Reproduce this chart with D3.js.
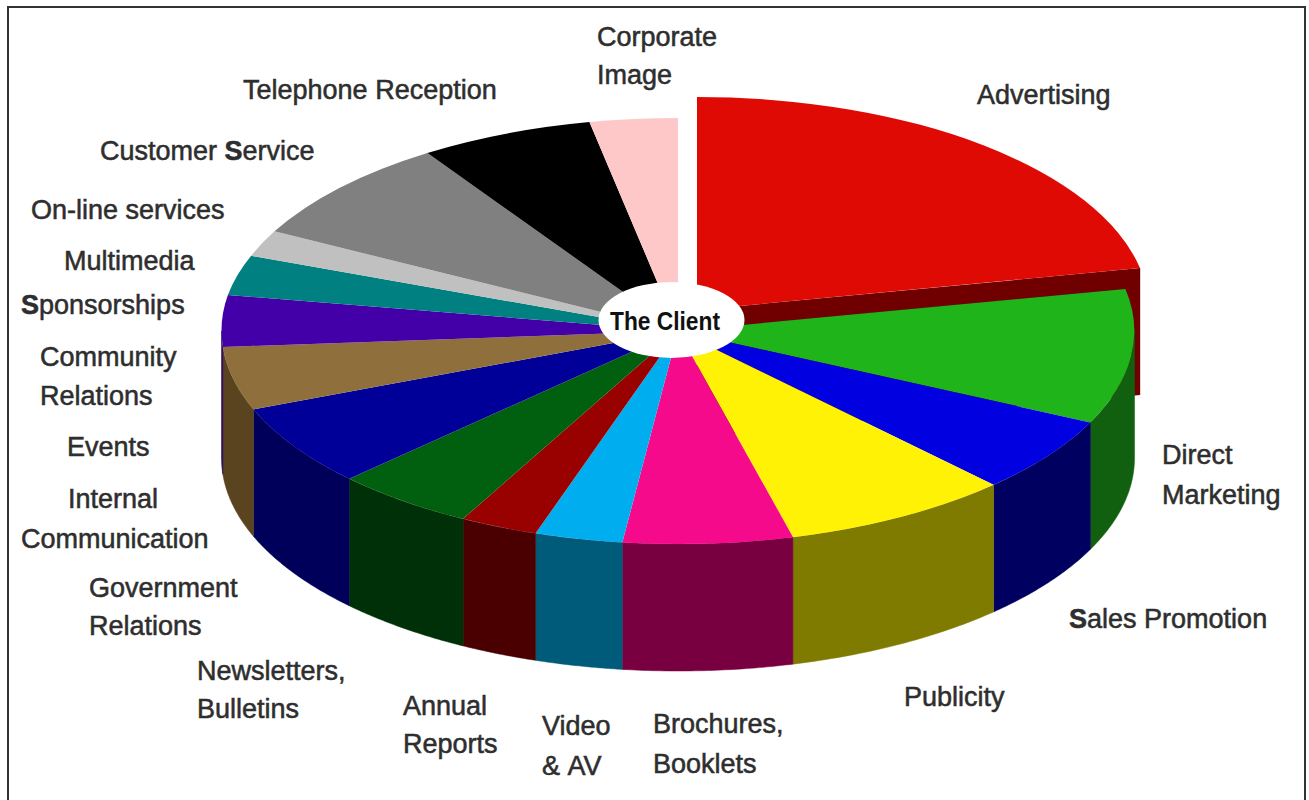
<!DOCTYPE html>
<html>
<head>
<meta charset="utf-8">
<title>The Client</title>
<script src="https://cdn.jsdelivr.net/npm/d3@7/dist/d3.min.js"></script>
<style>
  html, body { margin: 0; padding: 0; background: #fff; }
  svg { display: block; }
  text { font-family: "Liberation Sans", Arial, sans-serif; }
</style>
</head>
<body>
<script>
// Share of each communication channel, clockwise from twelve o'clock (percent).
const slices = ["Advertising", "Direct Marketing", "Sales Promotion", "Publicity",
  "Brochures, Booklets", "Video & AV", "Annual Reports", "Newsletters, Bulletins",
  "Government Relations", "Community Relations", "Sponsorships", "Multimedia",
  "On-line services", "Customer Service", "Telephone Reception", "Corporate Image"];
const shares = [21.85, 10.2, 5.8, 8.1, 6.0, 3.1, 2.75, 5.0, 6.2, 4.8, 3.9, 3.05, 2.0, 8.0, 6.15, 3.1];
const topColors = ["#e00a05", "#1eb41a", "#0000e0", "#fff205", "#f50a8c", "#00aeef", "#990000", "#006010",
  "#000099", "#8f703c", "#4400a8", "#008080", "#c0c0c0", "#808080", "#000000", "#ffc8c8"];
const sideColors = ["#700000", "#106010", "#000060", "#7f7a00", "#780040", "#005a7a", "#4a0000", "#003008",
  "#00005a", "#5a4420", "#220054", "#004040", "#606060", "#404040", "#000000", "#806464"];

// Text around the pie, one entry per line of text.
const labelLines = ["Advertising", "Corporate", "Image", "Telephone Reception", "Customer Service",
  "On-line services", "Multimedia", "Sponsorships", "Community", "Relations", "Events", "Internal",
  "Communication", "Government", "Relations", "Newsletters,", "Bulletins", "Annual", "Reports",
  "Video", "& AV", "Brochures,", "Booklets", "Publicity", "Sales Promotion", "Direct", "Marketing"];
const labelX = [977, 597, 597, 243, 100, 31, 64, 21, 40, 40, 67, 68, 21, 89, 89, 197, 197, 403, 403,
  542, 542, 653, 653, 904, 1069, 1162, 1162];
const labelY = [104, 46, 84, 99, 160, 219, 270, 314, 366, 405, 456, 508, 548, 597, 635, 680, 718, 715, 753,
  735, 775, 733, 773, 706, 628, 464, 504];
const heavyInitials = ["Service", "Sponsorships", "Sales"];

const width = 1309, height = 800;
const cx = 678, cy = 331, rx = 456.5, ry = 213, depth = 127;
const pullX = 19, pullY = -21, leadRx = 452;

const svg = d3.select("body").append("svg").attr("width", width).attr("height", height);

// Unit-circle coordinates projected onto the tilted disc.
const px = d3.scaleLinear().domain([-1, 1]).range([cx - rx, cx + rx]);
const py = d3.scaleLinear().domain([-1, 1]).range([cy + ry, cy - ry]);
const rim = a => [px(Math.sin(a)), py(Math.cos(a))];

const arcs = d3.pie().sort(null).value((d, i) => shares[i])(slices);
const unitArc = d3.arc().innerRadius(0).outerRadius(1);
const line = d3.line();

// Page frame, open along the bottom edge.
svg.append("path")
  .attr("d", line([[8, height], [8, 7], [1305, 7], [1305, height]]))
  .attr("fill", "none").attr("stroke", "#333").attr("stroke-width", 2);

// The cut face of the pulled-out slice sits behind everything else.
const lead = arcs[0];
const leadPx = d3.scaleLinear().domain([0, 1]).range([cx, cx + leadRx]);
const tip = [leadPx(Math.sin(lead.endAngle)), py(Math.cos(lead.endAngle))];
svg.append("path")
  .attr("transform", `translate(${pullX},${pullY})`)
  .attr("d", line([[cx, cy], tip, [tip[0], tip[1] + depth], [cx, cy + depth]]) + "Z")
  .attr("fill", sideColors[0]);

// Outer walls of the front half of the pie.
const walls = svg.append("g");
arcs.slice(1).forEach(d => {
  const a0 = Math.max(d.startAngle, Math.PI / 2);
  const a1 = Math.min(d.endAngle, Math.PI * 1.5);
  if (a1 <= a0) return;
  const steps = d3.range(0, 41).map(k => a0 + (a1 - a0) * k / 40);
  const upper = steps.map(rim);
  const lower = upper.map(p => [p[0], p[1] + depth]).reverse();
  walls.append("path")
    .attr("d", line(upper.concat(lower)) + "Z")
    .attr("fill", sideColors[d.index])
    .attr("stroke", sideColors[d.index]).attr("stroke-width", 0.5);
});

// Top faces: a unit pie squashed into the disc's ellipse.
svg.append("g").selectAll("path")
  .data(arcs)
  .join("path")
  .attr("transform", d => d.index === 0
    ? `translate(${cx + pullX},${cy + pullY}) scale(${leadRx},${ry})`
    : `translate(${cx},${cy}) scale(${rx},${ry})`)
  .attr("d", unitArc)
  .attr("fill", d => topColors[d.index]);

// Slot between the pulled-out slice and its neighbour.
svg.append("rect")
  .attr("x", cx).attr("y", 90).attr("width", pullX).attr("height", 215).attr("fill", "#fff");

// Hub in the middle.
svg.append("ellipse")
  .attr("cx", 671.5).attr("cy", 320).attr("rx", 73).attr("ry", 38).attr("fill", "#fff");
svg.append("text")
  .attr("x", 610).attr("y", 330)
  .attr("font-size", 26).attr("font-weight", 700).attr("fill", "#111")
  .attr("textLength", 110).attr("lengthAdjust", "spacingAndGlyphs")
  .text("The Client");

// Surrounding labels, slightly condensed; a few words carry a heavier first letter.
const labels = svg.append("g")
  .attr("font-size", 28).attr("fill", "#2e2e2e")
  .attr("stroke", "#2e2e2e").attr("stroke-width", 0.55);
labelLines.forEach((txt, i) => {
  const t = labels.append("text")
    .attr("transform", `translate(${labelX[i]},${labelY[i]}) scale(0.965,1)`);
  txt.split(/(\s+)/).forEach(word => {
    if (heavyInitials.includes(word)) {
      t.append("tspan").attr("font-weight", 700).text(word[0]);
      t.append("tspan").text(word.slice(1));
    } else {
      t.append("tspan").text(word);
    }
  });
});
</script>
</body>
</html>
